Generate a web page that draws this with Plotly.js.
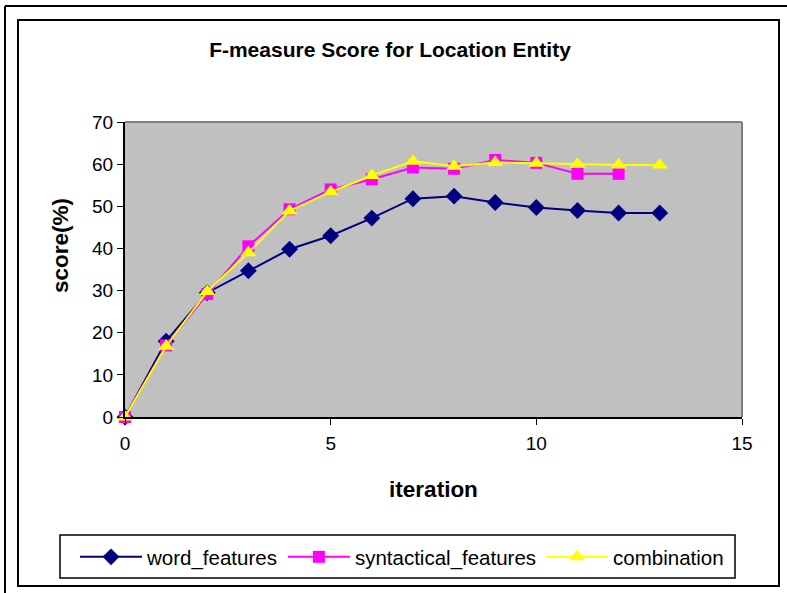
<!DOCTYPE html>
<html>
<head>
<meta charset="utf-8">
<script src="https://cdn.plot.ly/plotly-3.0.1.min.js"></script>
<style>
  html, body { margin: 0; padding: 0; background: #ffffff; }
  #chart { width: 787px; height: 593px; }
</style>
</head>
<body>
<div id="chart"></div>
<script>
// Iteration number on the x axis
const iterations = [0, 1, 2, 3, 4, 5, 6, 7, 8, 9, 10, 11, 12, 13];

// F-measure scores (%) per iteration for each feature set
const wordFeatures = [0, 18, 29.5, 34.7, 39.8, 43, 47.2, 51.8, 52.4, 50.9, 49.7, 49, 48.4, 48.4];
const syntacticalFeatures = [0, 17, 29.2, 40.5, 49.3, 54, 56.4, 59.2, 58.9, 61, 60.3, 57.7, 57.7];
const combination = [0, 16.8, 29.8, 39, 48.9, 53.4, 57.3, 60.7, 59.5, 60.4, 60.2, 60, 59.8, 59.8];

const seriesNames = ['word_features', 'syntactical_features', 'combination'];

const W = 787, H = 593;
const M = { l: 125, r: 45, t: 122, b: 176 };
const PW = W - M.l - M.r, PH = H - M.t - M.b;
// pixel -> paper coordinates for frame decorations
const px = v => (v - M.l) / PW;
const py = v => (H - M.b - v) / PH;

const font = 'Arial, "Liberation Sans", sans-serif';

const traces = [
  {
    x: iterations, y: wordFeatures, name: seriesNames[0],
    mode: 'lines+markers', cliponaxis: false,
    line: { color: '#000080', width: 2 },
    marker: { symbol: 'diamond', size: 13, color: '#000080' }
  },
  {
    x: iterations.slice(0, syntacticalFeatures.length), y: syntacticalFeatures, name: seriesNames[1],
    mode: 'lines+markers', cliponaxis: false,
    line: { color: '#FF00FF', width: 2 },
    marker: { symbol: 'square', size: 12, color: '#FF00FF' }
  },
  {
    x: iterations, y: combination, name: seriesNames[2],
    mode: 'lines+markers', cliponaxis: false,
    line: { color: '#FFFF00', width: 2 },
    marker: { symbol: 'triangle-up', size: 14, color: '#FFFF00' }
  }
];

const layout = {
  width: W, height: H,
  margin: M,
  paper_bgcolor: '#ffffff',
  plot_bgcolor: '#C0C0C0',
  font: { family: font, size: 19, color: '#000000' },
  title: {
    text: '<b>F-measure Score for Location Entity</b>',
    font: { family: font, size: 21, color: '#000000' },
    x: px(390), xref: 'paper', xanchor: 'center',
    y: 1 - 50 / H, yref: 'container', yanchor: 'middle'
  },
  xaxis: {
    range: [0, 15], tickvals: [0, 5, 10, 15],
    showgrid: false, zeroline: false,
    showline: true, linecolor: '#000000', linewidth: 2,
    ticks: 'outside', ticklen: 6, tickcolor: '#000000', tickwidth: 1,
    ticklabelstandoff: 2,
    tickfont: { family: font, size: 19 },
    title: { text: '<b>iteration</b>', font: { family: font, size: 22.5 }, standoff: 28 }
  },
  yaxis: {
    range: [0, 70], dtick: 10,
    showgrid: false, zeroline: false,
    showline: true, linecolor: '#000000', linewidth: 2,
    ticks: 'outside', ticklen: 6, tickcolor: '#000000', tickwidth: 1,
    tickfont: { family: font, size: 19 }
  },
  annotations: [
    // y axis title, placed a little above the axis middle
    { text: '<b>score(%)</b>', xref: 'paper', yref: 'paper',
      x: px(60), y: py(246), xanchor: 'center', yanchor: 'middle',
      textangle: -90, showarrow: false,
      font: { family: font, size: 22.5, color: '#000000' } }
  ],
  showlegend: true,
  legend: {
    orientation: 'h',
    x: px(75), xanchor: 'left',
    y: py(557), yanchor: 'middle',
    bgcolor: 'rgba(0,0,0,0)', borderwidth: 0,
    itemwidth: 62,
    font: { family: font, size: 20.5 },
    traceorder: 'normal'
  },
  shapes: [
    // gray top and right edges of the plot area
    { type: 'line', xref: 'paper', yref: 'paper', x0: 0, x1: 1, y0: 1, y1: 1,
      line: { color: '#808080', width: 2 } },
    { type: 'line', xref: 'paper', yref: 'paper', x0: 1, x1: 1, y0: 0, y1: 1,
      line: { color: '#808080', width: 2 } },
    // chart frame
    { type: 'rect', xref: 'paper', yref: 'paper', layer: 'below',
      x0: px(18), x1: px(779), y0: py(20), y1: py(586),
      line: { color: '#000000', width: 2 } },
    // outer page frame (top and left)
    { type: 'line', xref: 'paper', yref: 'paper', x0: px(5), x1: px(790), y0: py(6), y1: py(6),
      line: { color: '#000000', width: 2 } },
    { type: 'line', xref: 'paper', yref: 'paper', x0: px(5), x1: px(5), y0: py(6), y1: py(600),
      line: { color: '#000000', width: 2 } },
    // legend box
    { type: 'rect', xref: 'paper', yref: 'paper',
      x0: px(60), x1: px(735), y0: py(535), y1: py(578),
      line: { color: '#000000', width: 1.5 } }
  ]
};

Plotly.newPlot('chart', traces, layout, { displayModeBar: false, staticPlot: true });
</script>
</body>
</html>
